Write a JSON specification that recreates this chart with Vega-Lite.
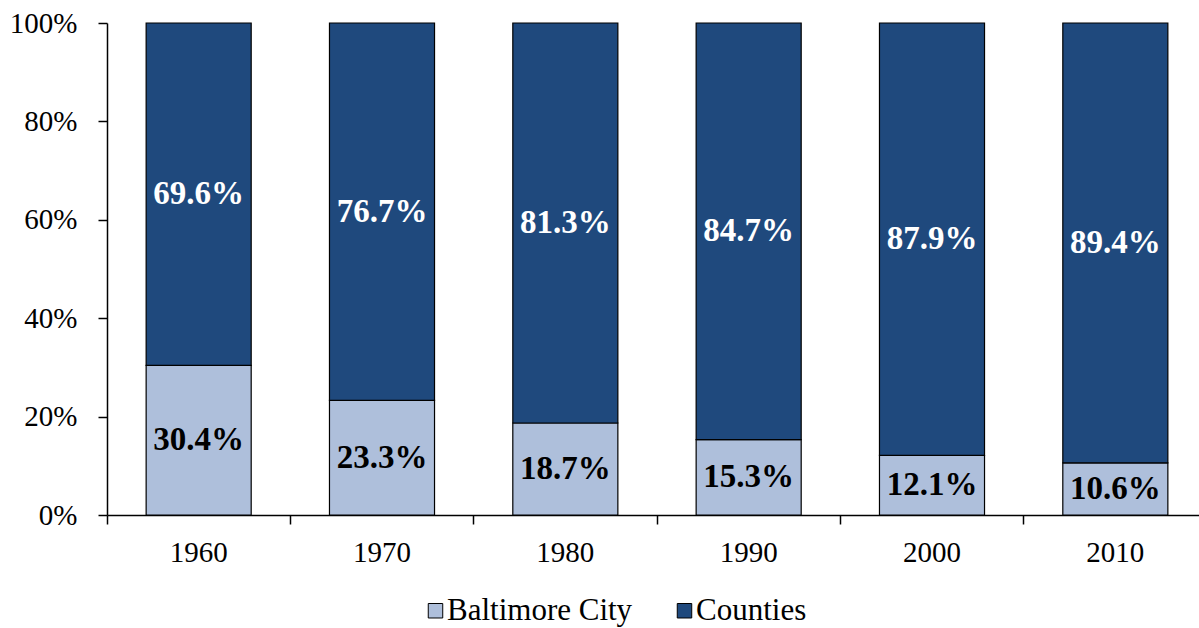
{
  "$schema": "https://vega.github.io/schema/vega-lite/v6.json",
  "autosize": {"type": "none"},
  "width": 1100,
  "height": 492,
  "padding": {"left": 107, "top": 23, "right": 0, "bottom": 113},
  "background": "white",
  "config": {
    "font": "Liberation Serif",
    "view": {"stroke": null},
    "axis": {"domainColor": "black", "tickColor": "black", "labelColor": "black", "grid": false, "labelFont": "Liberation Serif", "labelFontSize": 29, "domainWidth": 1.5, "tickWidth": 1.5, "labelOverlap": false}
  },
  "data": {
    "values": [
      {"year": "1960", "region": "Baltimore City", "share": 0.304},
      {"year": "1960", "region": "Counties", "share": 0.696},
      {"year": "1970", "region": "Baltimore City", "share": 0.233},
      {"year": "1970", "region": "Counties", "share": 0.767},
      {"year": "1980", "region": "Baltimore City", "share": 0.187},
      {"year": "1980", "region": "Counties", "share": 0.813},
      {"year": "1990", "region": "Baltimore City", "share": 0.153},
      {"year": "1990", "region": "Counties", "share": 0.847},
      {"year": "2000", "region": "Baltimore City", "share": 0.121},
      {"year": "2000", "region": "Counties", "share": 0.879},
      {"year": "2010", "region": "Baltimore City", "share": 0.106},
      {"year": "2010", "region": "Counties", "share": 0.894}
    ]
  },
  "transform": [
    {"stack": "share", "groupby": ["year"], "sort": [{"field": "region", "order": "ascending"}], "as": ["y0", "y1"]},
    {"calculate": "(datum.y0 + datum.y1) / 2", "as": "ymid"}
  ],
  "encoding": {
    "x": {
      "field": "year", "type": "nominal",
      "scale": {"paddingInner": 0, "paddingOuter": 0},
      "axis": {"title": null, "labelAngle": 0, "bandPosition": 0, "tickSize": 9, "labelPadding": 14}
    }
  },
  "layer": [
    {
      "mark": {"type": "bar", "stroke": "black", "strokeWidth": 1.2, "width": {"band": 0.573}},
      "encoding": {
        "y": {"field": "y0", "type": "quantitative", "scale": {"domain": [0, 1]},
          "axis": {"title": null, "format": ".0%", "values": [0, 0.2, 0.4, 0.6, 0.8, 1], "tickSize": 9, "labelPadding": 21}},
        "y2": {"field": "y1"},
        "fill": {
          "field": "region", "type": "nominal",
          "scale": {"domain": ["Baltimore City", "Counties"], "range": ["#aebfdb", "#1f497d"]},
          "legend": {
            "title": null, "orient": "none", "legendX": 313, "legendY": 572, "direction": "horizontal",
            "symbolType": "square", "symbolSize": 210, "symbolStrokeColor": "black", "symbolStrokeWidth": 1,
            "labelFontSize": 31, "labelFont": "Liberation Serif", "labelColor": "black", "labelLimit": 0, "columnPadding": 36, "labelOffset": -4
          }
        }
      }
    },
    {
      "mark": {"type": "text", "font": "Liberation Serif", "fontWeight": "bold", "fontSize": 33, "baseline": "middle"},
      "encoding": {
        "y": {"field": "ymid", "type": "quantitative"},
        "text": {"field": "share", "type": "quantitative", "format": ".1%"},
        "color": {
          "field": "region", "type": "nominal",
          "scale": {"domain": ["Baltimore City", "Counties"], "range": ["black", "white"]},
          "legend": null
        }
      }
    }
  ]
}
